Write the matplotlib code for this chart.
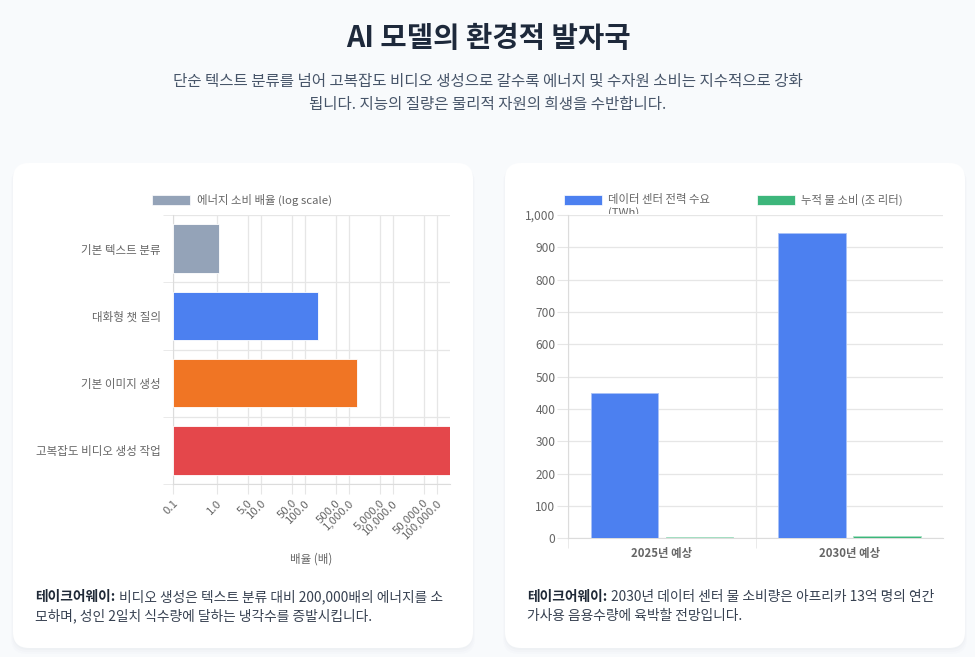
import matplotlib
matplotlib.use("Agg")
import matplotlib.pyplot as plt
from matplotlib.patches import FancyBboxPatch, Rectangle
from matplotlib.transforms import Bbox
import numpy as np

plt.rcParams['font.family'] = ['Noto Sans CJK KR', 'DejaVu Sans']

# data
tasks = ['기본 텍스트 분류', '대화형 챗 질의', '기본 이미지 생성', '고복잡도 비디오 생성 작업']
energy_ratio = [1, 200, 1500, 200000]
task_colors = ['#94a3b8', '#4c80f0', '#f07524', '#e4474b']
log_ticks = [0.1, 1, 5, 10, 50, 100, 500, 1000, 5000, 10000, 50000, 100000]

years = ['2025년 예상', '2030년 예상']
power_twh = [448, 945]
water_tl = [2.5, 8]

GRID = '#e6e6e6'
TICK = '#666666'

fig = plt.figure(figsize=(9.75, 6.57), dpi=100)
fig.patch.set_facecolor('#f8fafc')

# background layer in pixel coords
bg = fig.add_axes([0, 0, 1, 1], zorder=0)
bg.set_xlim(0, 975)
bg.set_ylim(657, 0)
bg.axis('off')

for x0 in (13, 505):
    for i, a in enumerate([0.025, 0.02, 0.015]):
        sh = FancyBboxPatch((x0 - i, 163 + 2 + i), 460 + 2 * i, 485 + i,
                            boxstyle="round,pad=0,rounding_size=16",
                            fc='#64748b', ec='none', alpha=a)
        bg.add_patch(sh)
    card = FancyBboxPatch((x0, 163), 460, 485, boxstyle="round,pad=0,rounding_size=16",
                          fc='white', ec='none')
    bg.add_patch(card)

bg.text(488, 38, 'AI 모델의 환경적 발자국', ha='center', va='center',
        fontsize=20.6, fontweight='bold', color='#1e293b')
bg.text(488, 81, '단순 텍스트 분류를 넘어 고복잡도 비디오 생성으로 갈수록 에너지 및 수자원 소비는 지수적으로 강화',
        ha='center', va='center', fontsize=11.2, color='#475569')
bg.text(488, 105, '됩니다. 지능의 질량은 물리적 자원의 희생을 수반합니다.',
        ha='center', va='center', fontsize=11.2, color='#475569')

renderer = fig.canvas.get_renderer()


def takeaway(x, y, line1, line2):
    t = bg.text(x, y, '테이크어웨이:', ha='left', va='center', fontsize=9.9,
                fontweight='bold', color='#1f2937')
    bb = t.get_window_extent(renderer=renderer)
    x2 = x + (bb.x1 - bb.x0) + 4
    bg.text(x2, y, line1, ha='left', va='center', fontsize=9.9, color='#374151')
    bg.text(x, y + 19, line2, ha='left', va='center', fontsize=9.9, color='#374151')


takeaway(35, 597, '비디오 생성은 텍스트 분류 대비 200,000배의 에너지를 소',
         '모하며, 성인 2일치 식수량에 달하는 냉각수를 증발시킵니다.')
takeaway(527, 597, '2030년 데이터 센터 물 소비량은 아프리카 13억 명의 연간',
         '가사용 음용수량에 육박할 전망입니다.')

# left chart: log-scale horizontal bars
ax1 = fig.add_axes([173 / 975, 1 - 484 / 657, (450 - 173) / 975, (484 - 215) / 657], zorder=2)
ax1.set_facecolor('none')
ypos = np.arange(len(tasks))
ax1.barh(ypos, energy_ratio, height=0.72, left=0.1, color=task_colors,
         edgecolor='white', linewidth=0.6, zorder=3)
ax1.set_xscale('log')
ax1.set_xlim(0.1, 200000)
ax1.set_ylim(3.5, -0.5)
ax1.set_xticks(log_ticks)
ax1.set_xticks([], minor=True)
ax1.set_xticklabels(['{:,.1f}'.format(v) for v in log_ticks], rotation=45,
                    ha='right', rotation_mode='anchor', fontsize=8.2, color=TICK)
ax1.set_yticks(ypos)
ax1.set_yticklabels(tasks, fontsize=8.3, color=TICK)
ax1.set_yticks([-0.5, 0.5, 1.5, 2.5, 3.5], minor=True)
ax1.tick_params(axis='y', which='major', length=0, pad=9)
ax1.tick_params(axis='y', which='minor', length=7, color=GRID)
ax1.tick_params(axis='x', which='major', length=7, color=GRID, pad=3)
ax1.grid(axis='x', which='major', color=GRID, linewidth=0.9, zorder=0)
ax1.grid(axis='y', which='minor', color=GRID, linewidth=0.9, zorder=0)
for s in ('top', 'right'):
    ax1.spines[s].set_visible(False)
for s in ('left', 'bottom'):
    ax1.spines[s].set_color('#dcdcdc')
ax1.set_xlabel('배율 (배)', fontsize=8.3, color=TICK, labelpad=8)

# left legend
bg.add_patch(Rectangle((152, 195), 38, 10, fc=task_colors[0], ec='white', lw=0.5))
bg.text(197, 200, '에너지 소비 배율 (log scale)', ha='left', va='center', fontsize=8.2, color=TICK)

# right chart: grouped bars
ax2 = fig.add_axes([568 / 975, 1 - 538.3 / 657, (943 - 568) / 975, (538.3 - 215) / 657], zorder=2)
ax2.set_facecolor('none')
xpos = np.arange(len(years))
ax2.bar(xpos - 0.2, power_twh, width=0.36, color='#4c80f0', edgecolor='#a9c2f7',
        linewidth=0.6, zorder=3)
ax2.bar(xpos + 0.2, water_tl, width=0.36, color='#3db67b', edgecolor='#a7e0c3',
        linewidth=0.6, zorder=3)
ax2.set_xlim(-0.5, 1.5)
ax2.set_ylim(0, 1000)
ax2.set_yticks(range(0, 1001, 100))
ax2.set_yticklabels(['{:,}'.format(v) for v in range(0, 1001, 100)], fontsize=8.6, color=TICK)
ax2.set_xticks(xpos)
ax2.set_xticklabels(years, fontsize=8.2, color=TICK, fontweight='bold')
ax2.set_xticks([-0.5, 0.5], minor=True)
ax2.tick_params(axis='x', which='major', length=0, pad=6)
ax2.tick_params(axis='x', which='minor', length=7, color=GRID)
ax2.tick_params(axis='y', length=8, color=GRID, pad=1)
ax2.grid(axis='y', color=GRID, linewidth=0.9, zorder=0)
ax2.grid(axis='x', which='minor', color=GRID, linewidth=0.9, zorder=0)
for s in ('top', 'right'):
    ax2.spines[s].set_visible(False)
for s in ('left', 'bottom'):
    ax2.spines[s].set_color('#dcdcdc')

# right legend
bg.add_patch(Rectangle((564, 195), 38, 10, fc='#4c80f0', ec='white', lw=0.5))
bg.text(608, 200, '데이터 센터 전력 수요', ha='left', va='center', fontsize=8.2, color=TICK)
twh = bg.text(608, 213, '(TWh)', ha='left', va='center', fontsize=8.2, color=TICK)
twh.set_clip_on(True)
twh.set_clip_box(Bbox([[500, 657 - 214], [900, 657 - 150]]))
bg.add_patch(Rectangle((757, 195), 38, 10, fc='#3db67b', ec='white', lw=0.5))
bg.text(801, 200, '누적 물 소비 (조 리터)', ha='left', va='center', fontsize=8.2, color=TICK)

fig.savefig('out.png', dpi=100, facecolor=fig.get_facecolor())
